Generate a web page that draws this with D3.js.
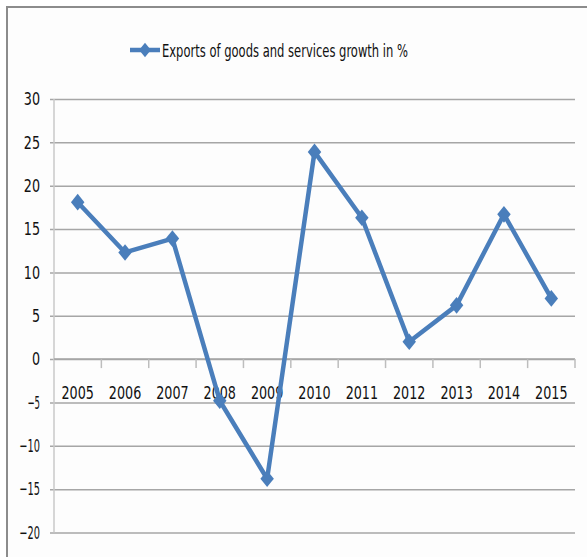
<!DOCTYPE html>
<html>
<head>
<meta charset="utf-8">
<script src="https://cdn.jsdelivr.net/npm/d3@7"></script>
<style>
  body { margin: 0; background: #fff; }
  text { font-family: 'Liberation Sans Narrow', 'Arial Narrow', 'DejaVu Sans Condensed', sans-serif; fill: #111; }
</style>
</head>
<body>
<svg id="chart"></svg>
<script>
const width = 587;
const height = 557;

const years = ['2005', '2006', '2007', '2008', '2009', '2010', '2011', '2012', '2013', '2014', '2015'];
const growth = [18.1, 12.3, 13.9, -4.8, -13.8, 23.9, 16.3, 2.0, 6.2, 16.7, 7.0];
const yTicks = [30, 25, 20, 15, 10, 5, 0, -5, -10, -15, -20];
const seriesName = 'Exports of goods and services growth in %';

const lineColor = '#4a7ebb';

// narrow text: squeeze glyphs to roughly Calibri widths
const textWidth = s => s.split('').reduce((a, c) => a + (c === '-' ? 4.5 : 8.1), 0);

const svg = d3.select('#chart')
    .attr('width', width)
    .attr('height', height);

// chart frame
svg.append('rect')
    .attr('x', 7).attr('y', 7)
    .attr('width', width + 10).attr('height', height)
    .attr('fill', '#fdfdfd')
    .attr('stroke', '#8c8c8c')
    .attr('stroke-width', 2);

const x = d3.scaleBand().domain(years).range([54, 575]);
const y = d3.scaleLinear().domain([-20, 30]).range([532.5, 99]);

// gridlines + y labels
const yAxis = svg.append('g').attr('transform', 'translate(54, 0)')
    .call(d3.axisLeft(y).tickValues(yTicks).tickSize(-(575 - 54)).tickPadding(14).tickFormat(d3.format('d')));
yAxis.select('.domain').remove();
yAxis.selectAll('.tick line')
    .attr('x1', -4)
    .attr('stroke', '#a6a6a6')
    .attr('stroke-width', 1.5);
yAxis.selectAll('.tick text')
    .style('font-size', '18px')
    .attr('fill', '#111')
    .attr('textLength', d => textWidth(String(d)))
    .attr('lengthAdjust', 'spacingAndGlyphs');

// vertical axis line
svg.append('line')
    .attr('x1', 54).attr('x2', 54)
    .attr('y1', y(30)).attr('y2', y(-20))
    .attr('stroke', '#c8c8c8')
    .attr('stroke-width', 1.5);

// category axis at zero
const xAxis = svg.append('g').attr('transform', `translate(0, ${y(0)})`);
xAxis.append('line')
    .attr('x1', 54).attr('x2', 575)
    .attr('stroke', '#a6a6a6').attr('stroke-width', 1.5);
const edges = years.map(d => x(d)).concat([x.range()[1]]);
xAxis.selectAll('.tk').data(edges.slice(1)).enter().append('line')
    .attr('x1', d => d).attr('x2', d => d)
    .attr('y1', 0).attr('y2', 9)
    .attr('stroke', '#bdbdbd').attr('stroke-width', 1.5);
xAxis.selectAll('.lbl').data(years).enter().append('text')
    .attr('x', d => x(d) + x.bandwidth() / 2)
    .attr('y', 40)
    .attr('text-anchor', 'middle')
    .style('font-size', '18px')
    .attr('textLength', d => textWidth(d))
    .attr('lengthAdjust', 'spacingAndGlyphs')
    .text(d => d);

// series
const pts = years.map((yr, i) => ({ year: yr, value: growth[i] }));
const line = d3.line()
    .x(d => x(d.year) + x.bandwidth() / 2)
    .y(d => y(d.value));

svg.append('path')
    .datum(pts)
    .attr('fill', 'none')
    .attr('stroke', lineColor)
    .attr('stroke-width', 4.5)
    .attr('stroke-linejoin', 'round')
    .attr('d', line);

const diamond = d3.symbol().type(d3.symbolDiamond2).size(160);
svg.selectAll('.marker').data(pts).enter().append('path')
    .attr('transform', d => `translate(${x(d.year) + x.bandwidth() / 2}, ${y(d.value)}) scale(0.85, 1.05)`)
    .attr('d', diamond)
    .attr('fill', lineColor);

// legend
const legend = svg.append('g').attr('transform', 'translate(130, 50)');
legend.append('line')
    .attr('x1', 0).attr('x2', 30)
    .attr('stroke', lineColor).attr('stroke-width', 4.5);
legend.append('path')
    .attr('transform', 'translate(15, 0) scale(0.85, 1.05)')
    .attr('d', d3.symbol().type(d3.symbolDiamond2).size(120))
    .attr('fill', lineColor);
legend.append('text')
    .attr('x', 32).attr('y', 7)
    .style('font-size', '18px')
    .attr('textLength', 246)
    .attr('lengthAdjust', 'spacingAndGlyphs')
    .text(seriesName);
</script>
</body>
</html>
